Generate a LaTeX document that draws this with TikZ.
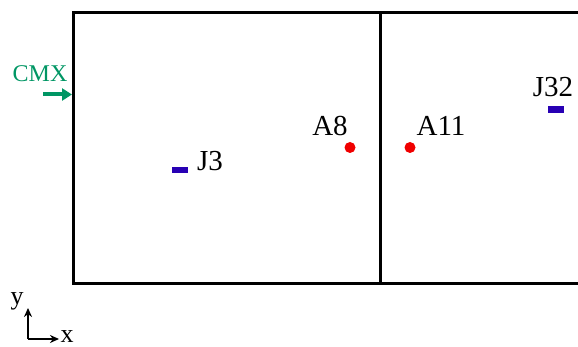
\documentclass[tikz,border=0pt]{standalone}
\usepackage{fontspec}
\setmainfont{Liberation Serif}
\newfontfamily\tms{Liberation Serif}
\usetikzlibrary{arrows.meta}
\definecolor{cmxgreen}{RGB}{0,150,100}
\definecolor{jblue}{RGB}{40,0,180}
\definecolor{ared}{RGB}{240,0,0}
\begin{document}
\begin{tikzpicture}[x=1pt,y=-1pt,
  lbl/.style={inner sep=0pt,anchor=base,font=\tms\fontsize{29}{29}\selectfont},
  jmark/.style={fill=jblue,inner sep=0pt,minimum width=16pt,minimum height=6.5pt,draw=none},
  adot/.style={circle,fill=ared,inner sep=0pt,minimum size=11pt,draw=none},
  frame/.style={line width=3pt,line cap=rect},
  axis/.style={line width=1.8pt,-{Stealth[length=9pt,width=8pt]}}]
\useasboundingbox (0,0) rectangle (578,347);
\clip (0,0) rectangle (578,347);
% frame
\draw[frame] (600,12.5) -- (73,12.5) -- (73,284) -- (600,284);
\draw[frame] (380,12.5) -- (380,284);
% CMX
\node[lbl,font=\tms\fontsize{24}{24}\selectfont,text=cmxgreen] (cmx) at (40,82) {CMX};
\coordinate (cmxs) at (43,94.5);
\coordinate (cmxe) at (72,94.5);
\draw[cmxgreen,line width=4pt,-{Triangle[length=10pt,width=12pt]}] (cmxs) -- (cmxe);
% J3
\node[jmark] (j3m) at (180,170) {};
\node[lbl] (j3) at (210,171) {J3};
% A8
\node[adot] (a8d) at (350,147.5) {};
\node[lbl] (a8) at (330,136) {A8};
% A11
\node[adot] (a11d) at (410,147.5) {};
\node[lbl] (a11) at (441,136) {A11};
% J32
\node[jmark] (j32m) at (556,109.5) {};
\node[lbl] (j32) at (553,97) {J32};
% axes
\coordinate (o) at (28,339);
\coordinate (ox) at (59,339);
\coordinate (oy) at (28,308);
\draw[axis] (o) -- (ox);
\draw[axis] (o) -- (oy);
\node[lbl,font=\tms\fontsize{26}{26}\selectfont] (ylab) at (17,305) {y};
\node[lbl,font=\tms\fontsize{26}{26}\selectfont] (xlab) at (67,342) {x};
\end{tikzpicture}
\end{document}
